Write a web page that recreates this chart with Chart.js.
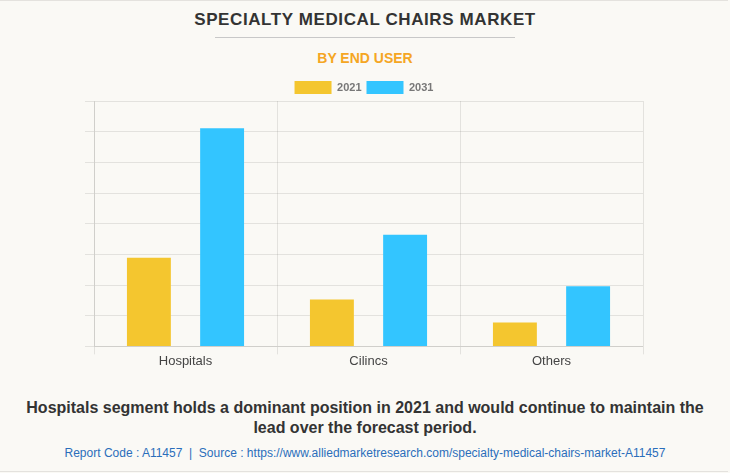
<!DOCTYPE html>
<html>
<head>
<meta charset="utf-8">
<script src="https://cdn.jsdelivr.net/npm/chart.js@4.4.0/dist/chart.umd.min.js"></script>
<style>
  html, body { margin: 0; padding: 0; }
  body {
    width: 730px; height: 473px; position: relative; overflow: hidden;
    background: #faf9f5; font-family: "Liberation Sans", Arial, sans-serif;
  }
  .frame { position: absolute; left: 0; top: 0; width: 728px; height: 470px; border: 1px solid #e4e2de; border-left: none; border-right: none; }
  #title { position: absolute; top: 10px; left: 0; width: 730px; text-align: center;
    font-size: 17px; font-weight: bold; color: #333; letter-spacing: 0.6px; }
  #rule { position: absolute; top: 37px; left: 215px; width: 300px; height: 1px; background: #c8c8c8; }
  #subtitle { position: absolute; top: 50px; left: 0; width: 730px; text-align: center;
    font-size: 14px; font-weight: bold; color: #f5a623; }
  #chart-box { position: absolute; left: 0; top: 0; width: 730px; height: 380px; }
  #note { position: absolute; top: 398px; left: 0; width: 730px; text-align: center;
    font-size: 16px; font-weight: bold; color: #333; line-height: 20px; }
  #source { position: absolute; top: 446px; left: 0; width: 730px; text-align: center;
    font-size: 12px; color: #2a6ebb; }
</style>
</head>
<body>
<div class="frame"></div>
<div id="title">SPECIALTY MEDICAL CHAIRS MARKET</div>
<div id="rule"></div>
<div id="subtitle">BY END USER</div>
<div id="chart-box"><canvas id="chart"></canvas></div>
<div id="note">Hospitals segment holds a dominant position in 2021 and would continue to maintain the<br>lead over the forecast period.</div>
<div id="source">Report Code : A11457 &nbsp;|&nbsp; Source : https://www.alliedmarketresearch.com/specialty-medical-chairs-market-A11457</div>

<script>
// End user segments and values (no axis labels shown)
const categories = ['Hospitals', 'Cilincs', 'Others'];
const values2021 = [2.89, 1.53, 0.78];
const values2031 = [7.11, 3.64, 1.96];

const gridColor = 'rgba(0, 0, 0, 0.09)';

// legend sits a bit closer to the plot than Chart.js default allows
const tightLegend = {
  id: 'tightLegend',
  beforeInit(chart) {
    const origFit = chart.legend.fit;
    chart.legend.fit = function () {
      origFit.bind(chart.legend)();
      this.height -= 3;
    };
  },
};

new Chart(document.getElementById('chart'), {
  type: 'bar',
  data: {
    labels: categories,
    datasets: [
      {
        label: '2021',
        data: values2021,
        backgroundColor: '#f4c62f',
        categoryPercentage: 0.8,
        barPercentage: 0.6,
      },
      {
        label: '2031',
        data: values2031,
        backgroundColor: '#33c5ff',
        categoryPercentage: 0.8,
        barPercentage: 0.6,
      },
    ],
  },
  options: {
    responsive: true,
    maintainAspectRatio: false,
    animation: false,
    layout: {
      padding: { top: 76, left: 85, right: 87, bottom: 12 },
    },
    plugins: {
      legend: {
        display: true,
        position: 'top',
        labels: {
          boxWidth: 37,
          boxHeight: 13,
          padding: 5,
          color: '#777',
          font: { size: 11, weight: 'bold', family: "'Liberation Sans', Arial, sans-serif" },
        },
      },
      tooltip: { enabled: false },
    },
    scales: {
      x: {
        grid: { color: gridColor, tickLength: 8 },
        border: { color: gridColor },
        ticks: {
          color: '#444',
          padding: -1,
          font: { size: 13, family: "'Liberation Sans', Arial, sans-serif" },
        },
      },
      y: {
        min: 0,
        max: 8,
        grid: { color: gridColor, tickLength: 9 },
        border: { color: gridColor },
        ticks: { stepSize: 1, display: false },
      },
    },
  },
  plugins: [tightLegend],
});
</script>
</body>
</html>
